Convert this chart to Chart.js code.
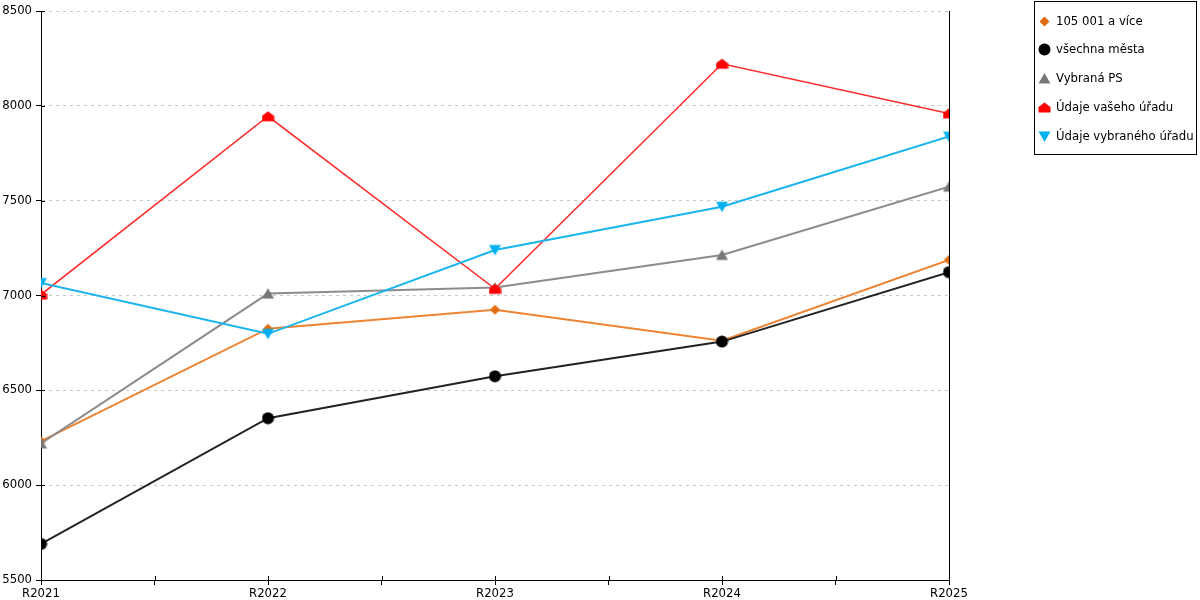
<!DOCTYPE html>
<html>
<head>
<meta charset="utf-8">
<script src="https://cdn.jsdelivr.net/npm/chart.js@4"></script>
<style>
  body { margin: 0; background: #fff; font-family: "DejaVu Sans", sans-serif; }
  #wrap { position: relative; width: 1200px; height: 600px; }
  #legend {
    position: absolute; left: 1034px; top: 1px; width: 161px; height: 152px;
    border: 1px solid #000; font-size: 11.7px; color: #000;
  }
  .item { position: absolute; left: 3px; height: 14px; display: flex; align-items: center; white-space: nowrap; }
  .item canvas { margin-right: 5px; }
</style>
</head>
<body>
<div id="wrap">
  <canvas id="chart" width="1200" height="600"></canvas>
  <div id="legend"></div>
</div>
<script>
const categories = ["R2021", "R2022", "R2023", "R2024", "R2025"];
const seriesNames = ["105 001 a více", "všechna města", "Vybraná PS", "Údaje vašeho úřadu", "Údaje vybraného úřadu"];
const orangeValues = [6232, 6825, 6925, 6762, 7188];
const blackValues = [5690, 6353, 6574, 6757, 7123];
const grayValues = [6220, 7010, 7042, 7214, 7574];
const redValues = [7005, 7945, 7035, 8222, 7960];
const blueValues = [7066, 6798, 7240, 7468, 7838];
const yTicks = [5500, 6000, 6500, 7000, 7500, 8000, 8500];

// marker canvases, used for points and for the legend
function makeMarker(shape, color) {
  const c = document.createElement("canvas");
  c.width = 13; c.height = 13;
  const g = c.getContext("2d");
  g.fillStyle = color;
  g.beginPath();
  if (shape === "diamond") {
    g.moveTo(6.5, 1.5); g.lineTo(11.5, 6.5); g.lineTo(6.5, 11.5); g.lineTo(1.5, 6.5);
  } else if (shape === "circle") {
    g.arc(6.5, 6.5, 6, 0, Math.PI * 2);
  } else if (shape === "up") {
    g.moveTo(6.5, 1); g.lineTo(12.5, 11.5); g.lineTo(0.5, 11.5);
  } else if (shape === "house") {
    g.moveTo(6.5, 1.5); g.lineTo(12.5, 6); g.lineTo(12.5, 11.5); g.lineTo(0.5, 11.5); g.lineTo(0.5, 6);
  } else if (shape === "down") {
    g.moveTo(0.5, 1.5); g.lineTo(12.5, 1.5); g.lineTo(6.5, 12);
  }
  g.closePath();
  g.fill();
  return c;
}

const markers = [
  makeMarker("diamond", "#e06c10"),
  makeMarker("circle", "#000000"),
  makeMarker("up", "#777777"),
  makeMarker("house", "#ff0000"),
  makeMarker("down", "#00b0f0")
];
const lineColors = ["#ee8433", "#222222", "#8c8c8c", "#ff2a2a", "#1ab4ee"];
const lineWidths = [2, 2, 2, 1.5, 2];
const allValues = [orangeValues, blackValues, grayValues, redValues, blueValues];

const datasets = allValues.map((vals, i) => ({
  label: seriesNames[i],
  data: vals.map((v, j) => ({ x: j, y: v })),
  borderColor: lineColors[i],
  borderWidth: lineWidths[i],
  pointStyle: markers[i],
  pointRadius: 6,
  fill: false,
  tension: 0,
  order: 5 - i
}));

// tick marks that cross the axis lines
const crossTicks = {
  id: "crossTicks",
  afterDraw(chart) {
    const { ctx, chartArea, scales } = chart;
    ctx.save();
    ctx.strokeStyle = "#000";
    ctx.lineWidth = 1;
    ctx.beginPath();
    scales.x.ticks.forEach(t => {
      const px = Math.round(scales.x.getPixelForValue(t.value)) + 0.5;
      ctx.moveTo(px, chartArea.bottom - 4);
      ctx.lineTo(px, chartArea.bottom);
    });
    scales.y.ticks.forEach(t => {
      const py = Math.round(scales.y.getPixelForValue(t.value)) + 0.5;
      ctx.moveTo(chartArea.left, py);
      ctx.lineTo(chartArea.left + 4, py);
    });
    ctx.stroke();
    ctx.restore();
  }
};

new Chart(document.getElementById("chart"), {
  type: "line",
  data: { datasets: datasets },
  options: {
    responsive: false,
    animation: false,
    layout: { padding: { top: 10, right: 251, left: 0, bottom: 0 } },
    plugins: { legend: { display: false }, tooltip: { enabled: false } },
    scales: {
      x: {
        type: "linear",
        min: 0,
        max: categories.length - 1,
        afterBuildTicks: scale => {
          const t = [];
          for (let v = 0; v <= categories.length - 1; v += 0.5) t.push({ value: v });
          scale.ticks = t;
        },
        afterFit: scale => { scale.height = 20; },
        ticks: {
          autoSkip: false,
          maxRotation: 0,
          padding: 2,
          color: "#000",
          font: { family: "DejaVu Sans", size: 11.7 },
          callback: v => Number.isInteger(v) ? categories[v] : ""
        },
        grid: {
          color: ctx => (ctx.tick && ctx.tick.value === categories.length - 1) ? "#000" : "rgba(0,0,0,0)",
          tickColor: "#000",
          tickLength: 5,
          lineWidth: 1
        },
        border: { color: "#000", width: 1 }
      },
      y: {
        min: yTicks[0],
        max: yTicks[yTicks.length - 1],
        afterBuildTicks: scale => { scale.ticks = yTicks.map(v => ({ value: v })); },
        afterFit: scale => { scale.width = 41; },
        ticks: {
          padding: 4,
          color: "#000",
          font: { family: "DejaVu Sans", size: 11.7 },
          callback: v => String(v)
        },
        grid: {
          color: "#c8c8c8",
          tickColor: "#000",
          tickLength: 5,
          tickBorderDash: [],
          lineWidth: 1
        },
        border: { color: "#000", width: 1, dash: [3, 4] }
      }
    }
  },
  plugins: [crossTicks]
});

// legend
const legend = document.getElementById("legend");
const rowTops = [12, 40, 69, 98, 127];
seriesNames.forEach((name, i) => {
  const row = document.createElement("div");
  row.className = "item";
  row.style.top = rowTops[i] + "px";
  const c = document.createElement("canvas");
  c.width = 13; c.height = 13;
  c.getContext("2d").drawImage(markers[i], 0, 0);
  row.appendChild(c);
  const s = document.createElement("span");
  s.textContent = name;
  row.appendChild(s);
  legend.appendChild(row);
});
</script>
</body>
</html>
